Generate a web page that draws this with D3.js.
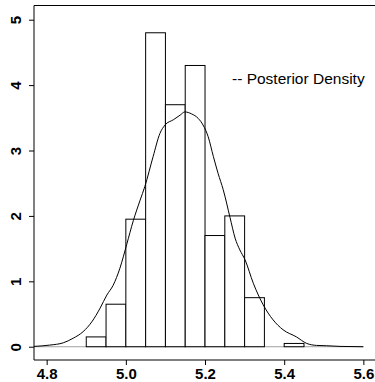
<!DOCTYPE html>
<html>
<head>
<meta charset="utf-8">
<script src="https://cdn.jsdelivr.net/npm/d3@7"></script>
<style>
  html, body { margin: 0; padding: 0; background: #fff; }
  svg { display: block; }
  .tick text { font-family: "Liberation Sans", Arial, sans-serif; font-weight: bold; font-size: 15px; fill: #000; }
</style>
</head>
<body>
<svg id="chart" width="375" height="382"></svg>
<script>
// Histogram breaks (bin edges) and density heights per bin
const breaks = [4.90, 4.95, 5.00, 5.05, 5.10, 5.15, 5.20, 5.25, 5.30, 5.35, 5.40, 5.45];
const binDensity = [0.15, 0.65, 1.95, 4.8, 3.7, 4.3, 1.7, 2.0, 0.75, 0, 0.05];

// Kernel density estimate of the posterior sample
const kdeX = [4.768, 4.808, 4.842, 4.867, 4.892, 4.914, 4.935, 4.952, 4.968, 4.985,
              5.002, 5.019, 5.036, 5.048, 5.069, 5.086, 5.099, 5.120, 5.137, 5.149,
              5.166, 5.183, 5.195, 5.208, 5.221, 5.233, 5.246, 5.263, 5.276, 5.288,
              5.301, 5.322, 5.347, 5.372, 5.397, 5.431, 5.457, 5.482, 5.507, 5.541, 5.600];
const kdeY = [0.005, 0.025, 0.06, 0.13, 0.23, 0.38, 0.59, 0.79, 0.94, 1.20,
              1.56, 1.93, 2.24, 2.45, 2.91, 3.26, 3.39, 3.47, 3.54, 3.59,
              3.56, 3.49, 3.39, 3.21, 2.91, 2.65, 2.40, 1.98, 1.66, 1.48,
              1.33, 0.97, 0.64, 0.41, 0.26, 0.15, 0.05, 0.02, 0.015, 0.005, 0.0];

// Axis ticks
const xTicks = [4.8, 5.0, 5.2, 5.4, 5.6];
const xTickLabels = ["4.8", "5.0", "5.2", "5.4", "5.6"];
const yTicks = [0, 1, 2, 3, 4, 5];
const legendLabel = "-- Posterior Density";

const svg = d3.select("#chart");
const plotLeft = 34, plotRight = 380, plotTop = 5.5, plotBottom = 360;

const x = d3.scaleLinear().domain([4.768, 5.642]).range([plotLeft, plotRight]);
const y = d3.scaleLinear().domain([-0.203, 5.217]).range([plotBottom, plotTop]);

// zero reference line
svg.append("line")
  .attr("x1", plotLeft).attr("x2", x(5.6))
  .attr("y1", y(0)).attr("y2", y(0))
  .attr("stroke", "#a0a0a0").attr("stroke-width", 1);

// histogram bars
const bins = binDensity.map((d, i) => ({ x0: breaks[i], x1: breaks[i + 1], d }));
svg.append("g").selectAll("rect")
  .data(bins.filter(b => b.d > 0))
  .join("rect")
  .attr("x", b => x(b.x0))
  .attr("width", b => x(b.x1) - x(b.x0))
  .attr("y", b => y(b.d))
  .attr("height", b => y(0) - y(b.d))
  .attr("fill", "#fff")
  .attr("stroke", "#000")
  .attr("stroke-width", 1);

// density curve
const pts = kdeX.map((v, i) => [v, kdeY[i]]);
svg.append("path")
  .datum(pts)
  .attr("fill", "none")
  .attr("stroke", "#000")
  .attr("stroke-width", 1)
  .attr("d", d3.line().x(p => x(p[0])).y(p => y(p[1])).curve(d3.curveMonotoneX));

// frame: left, top and bottom edges
svg.append("path")
  .attr("d", `M${plotRight},${plotTop}H${plotLeft}V${plotBottom}H${plotRight}`)
  .attr("fill", "none").attr("stroke", "#000").attr("stroke-width", 1);

// x axis
const xAxis = svg.append("g")
  .attr("transform", `translate(0,${plotBottom})`)
  .call(d3.axisBottom(x).tickValues(xTicks)
    .tickFormat((d, i) => xTickLabels[i]).tickSize(5).tickPadding(3));
xAxis.select(".domain").remove();

// y axis with rotated labels
const yAxis = svg.append("g")
  .attr("transform", `translate(${plotLeft},0)`)
  .call(d3.axisLeft(y).tickValues(yTicks).tickFormat(d3.format("d")).tickSize(5));
yAxis.select(".domain").remove();
yAxis.selectAll(".tick text")
  .attr("x", null)
  .attr("text-anchor", "middle")
  .attr("transform", "translate(-18,0) rotate(-90)")
  .attr("dy", "0.35em");

// legend
svg.append("text")
  .attr("x", 232).attr("y", 84)
  .attr("font-family", "Liberation Sans, Arial, sans-serif")
  .attr("font-size", 15.5)
  .attr("fill", "#000")
  .text(legendLabel);
</script>
</body>
</html>
